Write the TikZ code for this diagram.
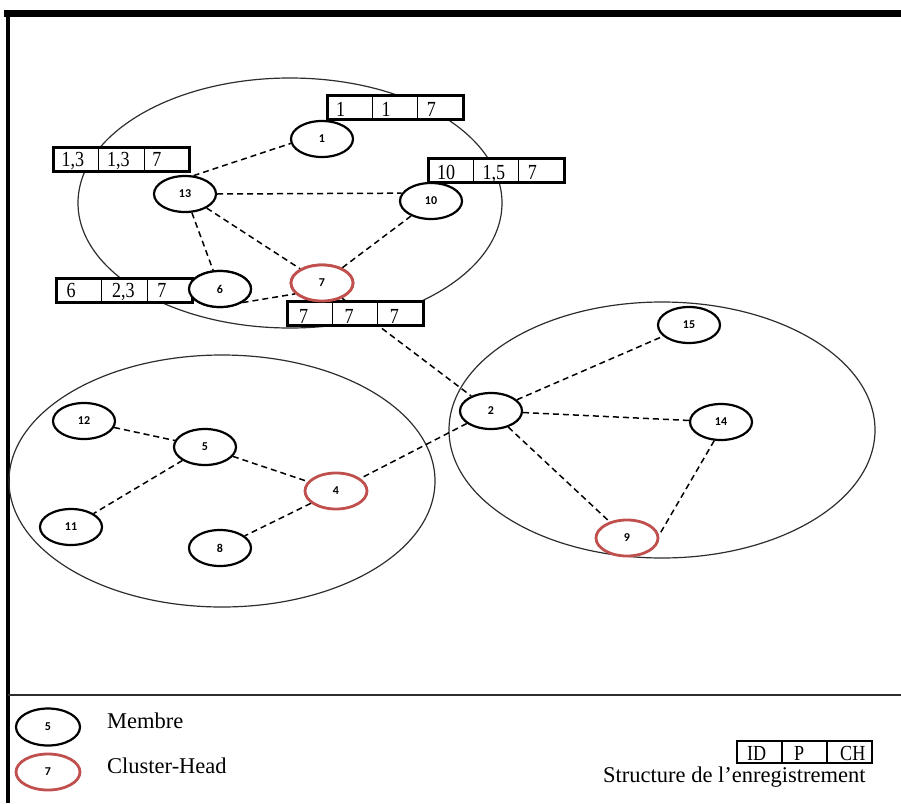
\documentclass[tikz,border=0pt]{standalone}
\usepackage{fontspec}
\setmainfont{Liberation Serif}
\newfontfamily\labelfont{Carlito}
\newfontfamily\cellfont[FakeStretch=0.84]{Liberation Serif}
\usetikzlibrary{shapes.geometric,calc}

\definecolor{chred}{RGB}{192,80,77}
\definecolor{ringgray}{RGB}{45,45,45}

\tikzset{
  cluster/.style={ellipse, draw=ringgray, line width=1.2pt, inner sep=0pt},
  member/.style={ellipse, draw=black, line width=2.2pt, fill=white,
    minimum width=62pt, minimum height=36pt, inner sep=0pt,
    font=\labelfont\bfseries\fontsize{12}{12}\selectfont},
  head/.style={member, draw=chred, line width=2.8pt},
  link/.style={dash pattern=on 6pt off 4pt, line width=1.5pt},
  recframe/.style={draw=black, line width=3pt, fill=white, inner sep=0pt,
    outer sep=0pt, minimum width=136pt, minimum height=24pt},
  cellline/.style={line width=1.2pt},
  celltext/.style={anchor=base west, inner sep=0pt,
    font=\cellfont\fontsize{21.5}{21.5}\selectfont},
  legendtext/.style={anchor=base west, inner sep=0pt,
    font=\fontsize{22.5}{22.5}\selectfont},
}

% record box with three cells: name, centre, left pad, baseline lift, three entries
\newcommand\recbox[7]{%
  \node[recframe] (#1) at (#2) {};
  \draw[cellline] ($(#1.north west)!1/3!(#1.north east)$) -- ($(#1.south west)!1/3!(#1.south east)$);
  \draw[cellline] ($(#1.north west)!2/3!(#1.north east)$) -- ($(#1.south west)!2/3!(#1.south east)$);
  \node[celltext] at ($(#1.south west)+(#3,-#4)$) {#5};
  \node[celltext] at ($(#1.south west)!1/3!(#1.south east)+(#3,-#4)$) {#6};
  \node[celltext] at ($(#1.south west)!2/3!(#1.south east)+(#3,-#4)$) {#7};
}

\begin{document}
\begin{tikzpicture}[x=1pt, y=-1pt]
\useasboundingbox (0,0) rectangle (901,803);

% frame
\coordinate (tl) at (4,13.5);
\coordinate (tr) at (901,13.5);
\coordinate (lt) at (8,10);
\coordinate (lb) at (8,803);
\coordinate (sl) at (8,695);
\coordinate (sr) at (901,695);
\draw[line width=7pt] (tl) -- (tr);
\draw[line width=4pt] (lt) -- (lb);
\draw[line width=1.5pt, draw=ringgray] (sl) -- (sr);

% clusters
\node[cluster, minimum width=424pt, minimum height=250pt] (c1) at (290,203) {};
\node[cluster, minimum width=426pt, minimum height=252pt] (c2) at (222,481) {};
\node[cluster, minimum width=426pt, minimum height=256pt] (c3) at (662,430) {};

% sensor nodes
\node[member] (n1)  at (322,139) {1};
\node[member] (n13) at (185,194) {13};
\node[member] (n10) at (431,201) {10};
\node[member] (n6)  at (220,289) {6};
\node[head]   (n7)  at (322,283) {7};
\node[member] (n2)  at (491,411) {2};
\node[member] (n15) at (689,325) {15};
\node[member] (n14) at (721,422) {14};
\node[head]   (n9)  at (627,538) {9};
\node[member] (n12) at (84,421)  {12};
\node[member] (n5)  at (205,447) {5};
\node[head]   (n4)  at (336,491) {4};
\node[member] (n11) at (71,527)  {11};
\node[member] (n8)  at (220,548) {8};

% links
\draw[link] (n13.65) -- (n1.188);
\draw[link] (n13.east) -- (n10.165);
\draw[link] (n13) -- (n7);
\draw[link] (n13) -- (n6);
\draw[link] (n10) -- (n7);
\draw[link] (n6.-31) -- (n7.202);
\draw[link] (n7) -- (n2);
\draw[link] (n2) -- (n15);
\draw[link] (n2) -- (n14);
\draw[link] (n2) -- (n9);
\draw[link] (n14.-110) -- (n9.5);
\draw[link] (n2) -- (n4);
\draw[link] (n12) -- (n5);
\draw[link] (n5) -- (n4);
\draw[link] (n5) -- (n11);
\draw[link] (n4) -- (n8);

% routing records
\recbox{r1}{395,107}{9}{3}{1}{1}{7}
\recbox{r13}{121.5,159.5}{8}{5}{1,3}{1,3}{7}
\recbox{r10}{496,170.5}{9}{3}{10}{1,5}{7}
\recbox{r6}{124.5,290.5}{10}{5}{6}{2,3}{7}
\recbox{r7}{355,313}{12}{2}{7}{7}{7}

% redraw nodes touched by records
\node[member] at (n6) {6};
\node[head] at (n7) {7};

% legend
\node[member, minimum width=64pt, minimum height=37pt] (lm) at (48,727) {5};
\node[head, minimum width=64pt, minimum height=36pt] (lh) at (48,772) {7};
\node[legendtext] (lmt) at (107,728) {Membre};
\node[legendtext] (lht) at (107,773) {Cluster-Head};

\node[recframe, line width=1.2pt, minimum width=135pt, minimum height=22pt] (rs) at (804.5,752) {};
\draw[cellline] ($(rs.north west)!1/3!(rs.north east)$) -- ($(rs.south west)!1/3!(rs.south east)$);
\draw[cellline] ($(rs.north west)!2/3!(rs.north east)$) -- ($(rs.south west)!2/3!(rs.south east)$);
\node[celltext] at ($(rs.south west)+(10,-3)$) {ID};
\node[celltext] at ($(rs.south west)!1/3!(rs.south east)+(12,-3)$) {P};
\node[celltext] at ($(rs.south west)!2/3!(rs.south east)+(13,-3)$) {CH};
\node[legendtext] (st) at (603,782) {Structure de l’enregistrement};
\end{tikzpicture}
\end{document}
